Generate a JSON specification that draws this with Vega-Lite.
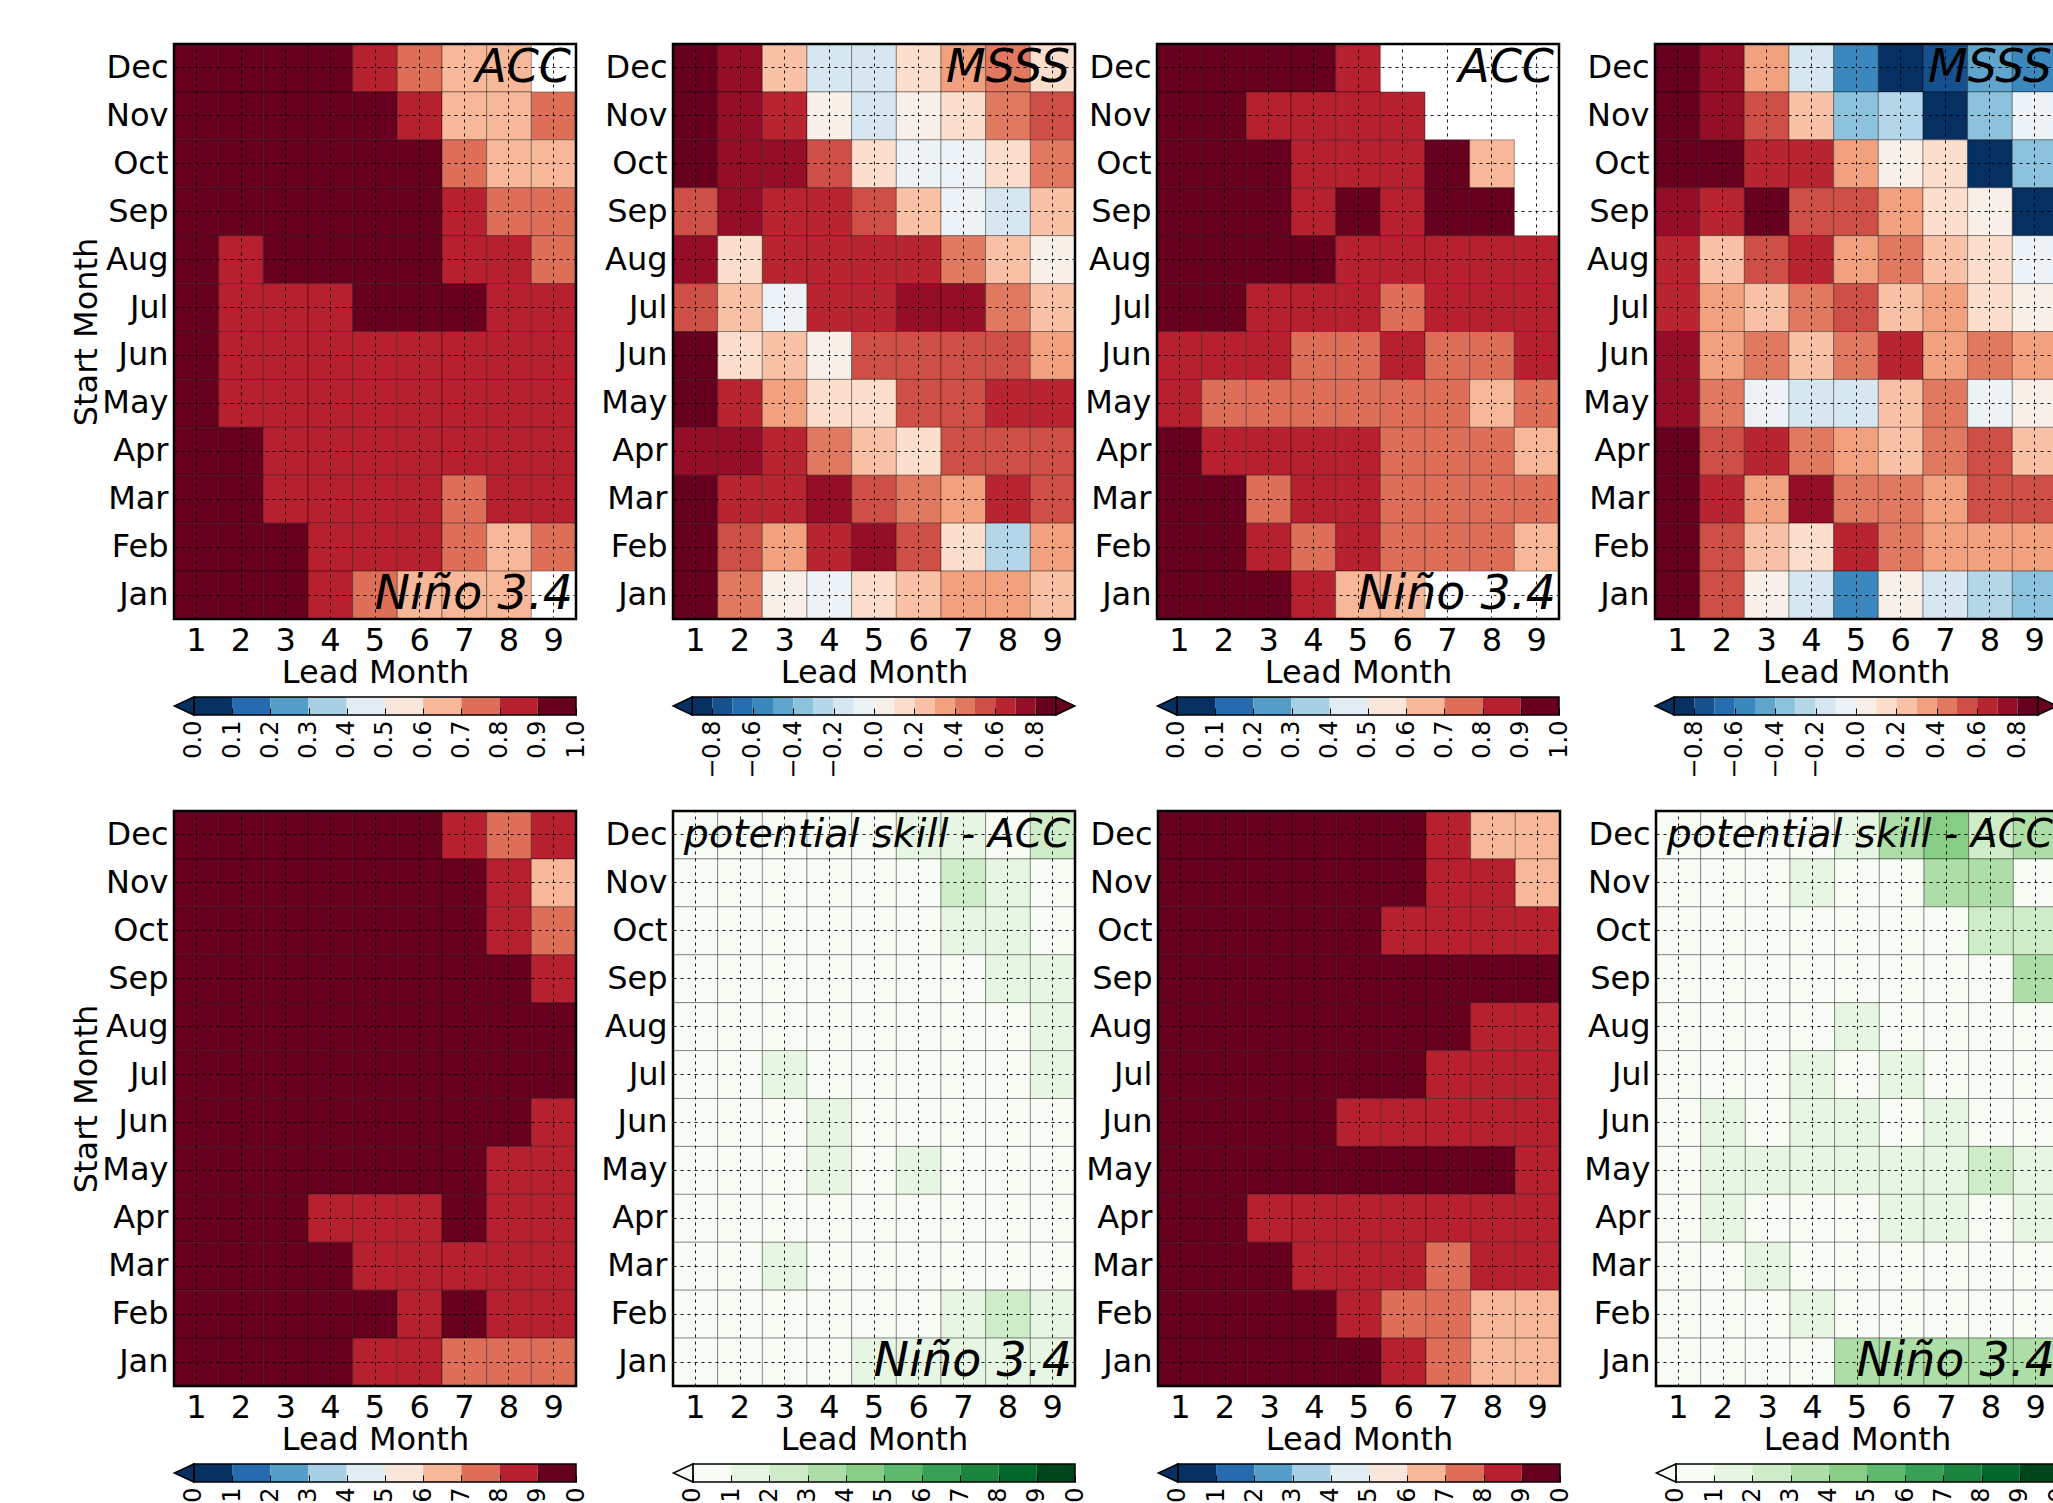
{
"$schema":"https://vega.github.io/schema/vega-lite/v6.json",
"background":"white",
"padding":{"left":70,"top":42,"right":0,"bottom":0},
"config":{
 "font":"DejaVu Sans",
 "view":{"stroke":null},
 "axis":{"labelColor":"black","titleColor":"black","titleFontWeight":"normal","labelFont":"DejaVu Sans","titleFont":"DejaVu Sans"},
 "axisBand":{"grid":true,"gridColor":"black","gridDash":[3,4],"gridWidth":1,"gridOpacity":0.9,"ticks":false,"domain":false,"labelFontSize":32,"titleFontSize":32,"labelPadding":6,"titlePadding":1,"zindex":1},
 "axisQuantitative":{"grid":false,"domain":false,"labelFontSize":24,"tickSize":-7,"tickColor":"black","tickWidth":1,"labelPadding":12,"zindex":1}
},
"datasets":{
 "cb10":[{"lo":0,"hi":0.1,"mid":0.05},{"lo":0.1,"hi":0.2,"mid":0.15},{"lo":0.2,"hi":0.3,"mid":0.25},{"lo":0.3,"hi":0.4,"mid":0.35},{"lo":0.4,"hi":0.5,"mid":0.45},{"lo":0.5,"hi":0.6,"mid":0.55},{"lo":0.6,"hi":0.7,"mid":0.65},{"lo":0.7,"hi":0.8,"mid":0.75},{"lo":0.8,"hi":0.9,"mid":0.85},{"lo":0.9,"hi":1.0,"mid":0.95}],
 "cb18":[{"lo":-0.9,"hi":-0.8,"mid":-0.85},{"lo":-0.8,"hi":-0.7,"mid":-0.75},{"lo":-0.7,"hi":-0.6,"mid":-0.65},{"lo":-0.6,"hi":-0.5,"mid":-0.55},{"lo":-0.5,"hi":-0.4,"mid":-0.45},{"lo":-0.4,"hi":-0.3,"mid":-0.35},{"lo":-0.3,"hi":-0.2,"mid":-0.25},{"lo":-0.2,"hi":-0.1,"mid":-0.15},{"lo":-0.1,"hi":0.0,"mid":-0.05},{"lo":0.0,"hi":0.1,"mid":0.05},{"lo":0.1,"hi":0.2,"mid":0.15},{"lo":0.2,"hi":0.3,"mid":0.25},{"lo":0.3,"hi":0.4,"mid":0.35},{"lo":0.4,"hi":0.5,"mid":0.45},{"lo":0.5,"hi":0.6,"mid":0.55},{"lo":0.6,"hi":0.7,"mid":0.65},{"lo":0.7,"hi":0.8,"mid":0.75},{"lo":0.8,"hi":0.9,"mid":0.85}],
 "p1":[
{"m":"Dec","l":1,"v":0.95},{"m":"Dec","l":2,"v":0.95},{"m":"Dec","l":3,"v":0.95},{"m":"Dec","l":4,"v":0.95},{"m":"Dec","l":5,"v":0.85},{"m":"Dec","l":6,"v":0.75},{"m":"Dec","l":7,"v":0.65},{"m":"Dec","l":8,"v":0.65},{"m":"Dec","l":9,"v":null},
{"m":"Nov","l":1,"v":0.95},{"m":"Nov","l":2,"v":0.95},{"m":"Nov","l":3,"v":0.95},{"m":"Nov","l":4,"v":0.95},{"m":"Nov","l":5,"v":0.95},{"m":"Nov","l":6,"v":0.85},{"m":"Nov","l":7,"v":0.65},{"m":"Nov","l":8,"v":0.65},{"m":"Nov","l":9,"v":0.75},
{"m":"Oct","l":1,"v":0.95},{"m":"Oct","l":2,"v":0.95},{"m":"Oct","l":3,"v":0.95},{"m":"Oct","l":4,"v":0.95},{"m":"Oct","l":5,"v":0.95},{"m":"Oct","l":6,"v":0.95},{"m":"Oct","l":7,"v":0.75},{"m":"Oct","l":8,"v":0.65},{"m":"Oct","l":9,"v":0.65},
{"m":"Sep","l":1,"v":0.95},{"m":"Sep","l":2,"v":0.95},{"m":"Sep","l":3,"v":0.95},{"m":"Sep","l":4,"v":0.95},{"m":"Sep","l":5,"v":0.95},{"m":"Sep","l":6,"v":0.95},{"m":"Sep","l":7,"v":0.85},{"m":"Sep","l":8,"v":0.75},{"m":"Sep","l":9,"v":0.75},
{"m":"Aug","l":1,"v":0.95},{"m":"Aug","l":2,"v":0.85},{"m":"Aug","l":3,"v":0.95},{"m":"Aug","l":4,"v":0.95},{"m":"Aug","l":5,"v":0.95},{"m":"Aug","l":6,"v":0.95},{"m":"Aug","l":7,"v":0.85},{"m":"Aug","l":8,"v":0.85},{"m":"Aug","l":9,"v":0.75},
{"m":"Jul","l":1,"v":0.95},{"m":"Jul","l":2,"v":0.85},{"m":"Jul","l":3,"v":0.85},{"m":"Jul","l":4,"v":0.85},{"m":"Jul","l":5,"v":0.95},{"m":"Jul","l":6,"v":0.95},{"m":"Jul","l":7,"v":0.95},{"m":"Jul","l":8,"v":0.85},{"m":"Jul","l":9,"v":0.85},
{"m":"Jun","l":1,"v":0.95},{"m":"Jun","l":2,"v":0.85},{"m":"Jun","l":3,"v":0.85},{"m":"Jun","l":4,"v":0.85},{"m":"Jun","l":5,"v":0.85},{"m":"Jun","l":6,"v":0.85},{"m":"Jun","l":7,"v":0.85},{"m":"Jun","l":8,"v":0.85},{"m":"Jun","l":9,"v":0.85},
{"m":"May","l":1,"v":0.95},{"m":"May","l":2,"v":0.85},{"m":"May","l":3,"v":0.85},{"m":"May","l":4,"v":0.85},{"m":"May","l":5,"v":0.85},{"m":"May","l":6,"v":0.85},{"m":"May","l":7,"v":0.85},{"m":"May","l":8,"v":0.85},{"m":"May","l":9,"v":0.85},
{"m":"Apr","l":1,"v":0.95},{"m":"Apr","l":2,"v":0.95},{"m":"Apr","l":3,"v":0.85},{"m":"Apr","l":4,"v":0.85},{"m":"Apr","l":5,"v":0.85},{"m":"Apr","l":6,"v":0.85},{"m":"Apr","l":7,"v":0.85},{"m":"Apr","l":8,"v":0.85},{"m":"Apr","l":9,"v":0.85},
{"m":"Mar","l":1,"v":0.95},{"m":"Mar","l":2,"v":0.95},{"m":"Mar","l":3,"v":0.85},{"m":"Mar","l":4,"v":0.85},{"m":"Mar","l":5,"v":0.85},{"m":"Mar","l":6,"v":0.85},{"m":"Mar","l":7,"v":0.75},{"m":"Mar","l":8,"v":0.85},{"m":"Mar","l":9,"v":0.85},
{"m":"Feb","l":1,"v":0.95},{"m":"Feb","l":2,"v":0.95},{"m":"Feb","l":3,"v":0.95},{"m":"Feb","l":4,"v":0.85},{"m":"Feb","l":5,"v":0.85},{"m":"Feb","l":6,"v":0.85},{"m":"Feb","l":7,"v":0.75},{"m":"Feb","l":8,"v":0.65},{"m":"Feb","l":9,"v":0.75},
{"m":"Jan","l":1,"v":0.95},{"m":"Jan","l":2,"v":0.95},{"m":"Jan","l":3,"v":0.95},{"m":"Jan","l":4,"v":0.85},{"m":"Jan","l":5,"v":0.75},{"m":"Jan","l":6,"v":0.65},{"m":"Jan","l":7,"v":0.65},{"m":"Jan","l":8,"v":0.65},{"m":"Jan","l":9,"v":null}],
 "p2":[
{"m":"Dec","l":1,"v":0.85},{"m":"Dec","l":2,"v":0.75},{"m":"Dec","l":3,"v":0.25},{"m":"Dec","l":4,"v":-0.15},{"m":"Dec","l":5,"v":-0.15},{"m":"Dec","l":6,"v":0.15},{"m":"Dec","l":7,"v":0.35},{"m":"Dec","l":8,"v":0.45},{"m":"Dec","l":9,"v":0.15},
{"m":"Nov","l":1,"v":0.85},{"m":"Nov","l":2,"v":0.75},{"m":"Nov","l":3,"v":0.65},{"m":"Nov","l":4,"v":0.05},{"m":"Nov","l":5,"v":-0.15},{"m":"Nov","l":6,"v":0.05},{"m":"Nov","l":7,"v":0.15},{"m":"Nov","l":8,"v":0.45},{"m":"Nov","l":9,"v":0.55},
{"m":"Oct","l":1,"v":0.85},{"m":"Oct","l":2,"v":0.75},{"m":"Oct","l":3,"v":0.75},{"m":"Oct","l":4,"v":0.55},{"m":"Oct","l":5,"v":0.15},{"m":"Oct","l":6,"v":-0.05},{"m":"Oct","l":7,"v":-0.05},{"m":"Oct","l":8,"v":0.15},{"m":"Oct","l":9,"v":0.45},
{"m":"Sep","l":1,"v":0.55},{"m":"Sep","l":2,"v":0.75},{"m":"Sep","l":3,"v":0.65},{"m":"Sep","l":4,"v":0.65},{"m":"Sep","l":5,"v":0.55},{"m":"Sep","l":6,"v":0.25},{"m":"Sep","l":7,"v":-0.05},{"m":"Sep","l":8,"v":-0.15},{"m":"Sep","l":9,"v":0.25},
{"m":"Aug","l":1,"v":0.75},{"m":"Aug","l":2,"v":0.15},{"m":"Aug","l":3,"v":0.65},{"m":"Aug","l":4,"v":0.65},{"m":"Aug","l":5,"v":0.65},{"m":"Aug","l":6,"v":0.65},{"m":"Aug","l":7,"v":0.45},{"m":"Aug","l":8,"v":0.25},{"m":"Aug","l":9,"v":0.05},
{"m":"Jul","l":1,"v":0.55},{"m":"Jul","l":2,"v":0.25},{"m":"Jul","l":3,"v":-0.05},{"m":"Jul","l":4,"v":0.65},{"m":"Jul","l":5,"v":0.65},{"m":"Jul","l":6,"v":0.75},{"m":"Jul","l":7,"v":0.75},{"m":"Jul","l":8,"v":0.45},{"m":"Jul","l":9,"v":0.25},
{"m":"Jun","l":1,"v":0.85},{"m":"Jun","l":2,"v":0.15},{"m":"Jun","l":3,"v":0.25},{"m":"Jun","l":4,"v":0.05},{"m":"Jun","l":5,"v":0.55},{"m":"Jun","l":6,"v":0.55},{"m":"Jun","l":7,"v":0.55},{"m":"Jun","l":8,"v":0.55},{"m":"Jun","l":9,"v":0.35},
{"m":"May","l":1,"v":0.85},{"m":"May","l":2,"v":0.65},{"m":"May","l":3,"v":0.35},{"m":"May","l":4,"v":0.15},{"m":"May","l":5,"v":0.15},{"m":"May","l":6,"v":0.55},{"m":"May","l":7,"v":0.55},{"m":"May","l":8,"v":0.65},{"m":"May","l":9,"v":0.65},
{"m":"Apr","l":1,"v":0.75},{"m":"Apr","l":2,"v":0.75},{"m":"Apr","l":3,"v":0.65},{"m":"Apr","l":4,"v":0.45},{"m":"Apr","l":5,"v":0.25},{"m":"Apr","l":6,"v":0.15},{"m":"Apr","l":7,"v":0.55},{"m":"Apr","l":8,"v":0.55},{"m":"Apr","l":9,"v":0.55},
{"m":"Mar","l":1,"v":0.85},{"m":"Mar","l":2,"v":0.65},{"m":"Mar","l":3,"v":0.65},{"m":"Mar","l":4,"v":0.75},{"m":"Mar","l":5,"v":0.55},{"m":"Mar","l":6,"v":0.45},{"m":"Mar","l":7,"v":0.35},{"m":"Mar","l":8,"v":0.65},{"m":"Mar","l":9,"v":0.55},
{"m":"Feb","l":1,"v":0.85},{"m":"Feb","l":2,"v":0.55},{"m":"Feb","l":3,"v":0.35},{"m":"Feb","l":4,"v":0.65},{"m":"Feb","l":5,"v":0.75},{"m":"Feb","l":6,"v":0.55},{"m":"Feb","l":7,"v":0.15},{"m":"Feb","l":8,"v":-0.25},{"m":"Feb","l":9,"v":0.35},
{"m":"Jan","l":1,"v":0.85},{"m":"Jan","l":2,"v":0.45},{"m":"Jan","l":3,"v":0.05},{"m":"Jan","l":4,"v":-0.05},{"m":"Jan","l":5,"v":0.15},{"m":"Jan","l":6,"v":0.25},{"m":"Jan","l":7,"v":0.35},{"m":"Jan","l":8,"v":0.35},{"m":"Jan","l":9,"v":0.25}],
 "p3":[
{"m":"Dec","l":1,"v":0.95},{"m":"Dec","l":2,"v":0.95},{"m":"Dec","l":3,"v":0.95},{"m":"Dec","l":4,"v":0.95},{"m":"Dec","l":5,"v":0.85},{"m":"Dec","l":6,"v":null},{"m":"Dec","l":7,"v":null},{"m":"Dec","l":8,"v":null},{"m":"Dec","l":9,"v":null},
{"m":"Nov","l":1,"v":0.95},{"m":"Nov","l":2,"v":0.95},{"m":"Nov","l":3,"v":0.85},{"m":"Nov","l":4,"v":0.85},{"m":"Nov","l":5,"v":0.85},{"m":"Nov","l":6,"v":0.85},{"m":"Nov","l":7,"v":null},{"m":"Nov","l":8,"v":null},{"m":"Nov","l":9,"v":null},
{"m":"Oct","l":1,"v":0.95},{"m":"Oct","l":2,"v":0.95},{"m":"Oct","l":3,"v":0.95},{"m":"Oct","l":4,"v":0.85},{"m":"Oct","l":5,"v":0.85},{"m":"Oct","l":6,"v":0.85},{"m":"Oct","l":7,"v":0.95},{"m":"Oct","l":8,"v":0.65},{"m":"Oct","l":9,"v":null},
{"m":"Sep","l":1,"v":0.95},{"m":"Sep","l":2,"v":0.95},{"m":"Sep","l":3,"v":0.95},{"m":"Sep","l":4,"v":0.85},{"m":"Sep","l":5,"v":0.95},{"m":"Sep","l":6,"v":0.85},{"m":"Sep","l":7,"v":0.95},{"m":"Sep","l":8,"v":0.95},{"m":"Sep","l":9,"v":null},
{"m":"Aug","l":1,"v":0.95},{"m":"Aug","l":2,"v":0.95},{"m":"Aug","l":3,"v":0.95},{"m":"Aug","l":4,"v":0.95},{"m":"Aug","l":5,"v":0.85},{"m":"Aug","l":6,"v":0.85},{"m":"Aug","l":7,"v":0.85},{"m":"Aug","l":8,"v":0.85},{"m":"Aug","l":9,"v":0.85},
{"m":"Jul","l":1,"v":0.95},{"m":"Jul","l":2,"v":0.95},{"m":"Jul","l":3,"v":0.85},{"m":"Jul","l":4,"v":0.85},{"m":"Jul","l":5,"v":0.85},{"m":"Jul","l":6,"v":0.75},{"m":"Jul","l":7,"v":0.85},{"m":"Jul","l":8,"v":0.85},{"m":"Jul","l":9,"v":0.85},
{"m":"Jun","l":1,"v":0.85},{"m":"Jun","l":2,"v":0.85},{"m":"Jun","l":3,"v":0.85},{"m":"Jun","l":4,"v":0.75},{"m":"Jun","l":5,"v":0.75},{"m":"Jun","l":6,"v":0.85},{"m":"Jun","l":7,"v":0.75},{"m":"Jun","l":8,"v":0.75},{"m":"Jun","l":9,"v":0.85},
{"m":"May","l":1,"v":0.85},{"m":"May","l":2,"v":0.75},{"m":"May","l":3,"v":0.75},{"m":"May","l":4,"v":0.75},{"m":"May","l":5,"v":0.75},{"m":"May","l":6,"v":0.75},{"m":"May","l":7,"v":0.75},{"m":"May","l":8,"v":0.65},{"m":"May","l":9,"v":0.75},
{"m":"Apr","l":1,"v":0.95},{"m":"Apr","l":2,"v":0.85},{"m":"Apr","l":3,"v":0.85},{"m":"Apr","l":4,"v":0.85},{"m":"Apr","l":5,"v":0.85},{"m":"Apr","l":6,"v":0.75},{"m":"Apr","l":7,"v":0.75},{"m":"Apr","l":8,"v":0.75},{"m":"Apr","l":9,"v":0.65},
{"m":"Mar","l":1,"v":0.95},{"m":"Mar","l":2,"v":0.95},{"m":"Mar","l":3,"v":0.75},{"m":"Mar","l":4,"v":0.85},{"m":"Mar","l":5,"v":0.85},{"m":"Mar","l":6,"v":0.75},{"m":"Mar","l":7,"v":0.75},{"m":"Mar","l":8,"v":0.75},{"m":"Mar","l":9,"v":0.75},
{"m":"Feb","l":1,"v":0.95},{"m":"Feb","l":2,"v":0.95},{"m":"Feb","l":3,"v":0.85},{"m":"Feb","l":4,"v":0.75},{"m":"Feb","l":5,"v":0.85},{"m":"Feb","l":6,"v":0.75},{"m":"Feb","l":7,"v":0.75},{"m":"Feb","l":8,"v":0.75},{"m":"Feb","l":9,"v":0.65},
{"m":"Jan","l":1,"v":0.95},{"m":"Jan","l":2,"v":0.95},{"m":"Jan","l":3,"v":0.95},{"m":"Jan","l":4,"v":0.85},{"m":"Jan","l":5,"v":0.65},{"m":"Jan","l":6,"v":0.65},{"m":"Jan","l":7,"v":null},{"m":"Jan","l":8,"v":null},{"m":"Jan","l":9,"v":null}],
 "p4":[
{"m":"Dec","l":1,"v":0.85},{"m":"Dec","l":2,"v":0.75},{"m":"Dec","l":3,"v":0.35},{"m":"Dec","l":4,"v":-0.15},{"m":"Dec","l":5,"v":-0.55},{"m":"Dec","l":6,"v":-0.85},{"m":"Dec","l":7,"v":-0.75},{"m":"Dec","l":8,"v":-0.45},{"m":"Dec","l":9,"v":-0.55},
{"m":"Nov","l":1,"v":0.85},{"m":"Nov","l":2,"v":0.75},{"m":"Nov","l":3,"v":0.55},{"m":"Nov","l":4,"v":0.25},{"m":"Nov","l":5,"v":-0.35},{"m":"Nov","l":6,"v":-0.25},{"m":"Nov","l":7,"v":-0.85},{"m":"Nov","l":8,"v":-0.35},{"m":"Nov","l":9,"v":-0.05},
{"m":"Oct","l":1,"v":0.85},{"m":"Oct","l":2,"v":0.85},{"m":"Oct","l":3,"v":0.65},{"m":"Oct","l":4,"v":0.65},{"m":"Oct","l":5,"v":0.35},{"m":"Oct","l":6,"v":0.05},{"m":"Oct","l":7,"v":0.15},{"m":"Oct","l":8,"v":-0.85},{"m":"Oct","l":9,"v":-0.35},
{"m":"Sep","l":1,"v":0.75},{"m":"Sep","l":2,"v":0.65},{"m":"Sep","l":3,"v":0.85},{"m":"Sep","l":4,"v":0.55},{"m":"Sep","l":5,"v":0.55},{"m":"Sep","l":6,"v":0.35},{"m":"Sep","l":7,"v":0.15},{"m":"Sep","l":8,"v":0.05},{"m":"Sep","l":9,"v":-0.85},
{"m":"Aug","l":1,"v":0.65},{"m":"Aug","l":2,"v":0.25},{"m":"Aug","l":3,"v":0.55},{"m":"Aug","l":4,"v":0.65},{"m":"Aug","l":5,"v":0.35},{"m":"Aug","l":6,"v":0.45},{"m":"Aug","l":7,"v":0.25},{"m":"Aug","l":8,"v":0.15},{"m":"Aug","l":9,"v":-0.05},
{"m":"Jul","l":1,"v":0.65},{"m":"Jul","l":2,"v":0.35},{"m":"Jul","l":3,"v":0.25},{"m":"Jul","l":4,"v":0.45},{"m":"Jul","l":5,"v":0.55},{"m":"Jul","l":6,"v":0.25},{"m":"Jul","l":7,"v":0.35},{"m":"Jul","l":8,"v":0.15},{"m":"Jul","l":9,"v":0.05},
{"m":"Jun","l":1,"v":0.75},{"m":"Jun","l":2,"v":0.35},{"m":"Jun","l":3,"v":0.45},{"m":"Jun","l":4,"v":0.25},{"m":"Jun","l":5,"v":0.45},{"m":"Jun","l":6,"v":0.65},{"m":"Jun","l":7,"v":0.35},{"m":"Jun","l":8,"v":0.45},{"m":"Jun","l":9,"v":0.35},
{"m":"May","l":1,"v":0.75},{"m":"May","l":2,"v":0.45},{"m":"May","l":3,"v":-0.05},{"m":"May","l":4,"v":-0.15},{"m":"May","l":5,"v":-0.15},{"m":"May","l":6,"v":0.25},{"m":"May","l":7,"v":0.45},{"m":"May","l":8,"v":-0.05},{"m":"May","l":9,"v":0.05},
{"m":"Apr","l":1,"v":0.85},{"m":"Apr","l":2,"v":0.55},{"m":"Apr","l":3,"v":0.65},{"m":"Apr","l":4,"v":0.45},{"m":"Apr","l":5,"v":0.35},{"m":"Apr","l":6,"v":0.25},{"m":"Apr","l":7,"v":0.45},{"m":"Apr","l":8,"v":0.55},{"m":"Apr","l":9,"v":0.25},
{"m":"Mar","l":1,"v":0.85},{"m":"Mar","l":2,"v":0.65},{"m":"Mar","l":3,"v":0.35},{"m":"Mar","l":4,"v":0.75},{"m":"Mar","l":5,"v":0.45},{"m":"Mar","l":6,"v":0.45},{"m":"Mar","l":7,"v":0.35},{"m":"Mar","l":8,"v":0.55},{"m":"Mar","l":9,"v":0.55},
{"m":"Feb","l":1,"v":0.85},{"m":"Feb","l":2,"v":0.55},{"m":"Feb","l":3,"v":0.25},{"m":"Feb","l":4,"v":0.15},{"m":"Feb","l":5,"v":0.65},{"m":"Feb","l":6,"v":0.45},{"m":"Feb","l":7,"v":0.35},{"m":"Feb","l":8,"v":0.35},{"m":"Feb","l":9,"v":0.35},
{"m":"Jan","l":1,"v":0.85},{"m":"Jan","l":2,"v":0.55},{"m":"Jan","l":3,"v":0.05},{"m":"Jan","l":4,"v":-0.15},{"m":"Jan","l":5,"v":-0.55},{"m":"Jan","l":6,"v":0.05},{"m":"Jan","l":7,"v":-0.15},{"m":"Jan","l":8,"v":-0.25},{"m":"Jan","l":9,"v":-0.35}],
 "p5":[
{"m":"Dec","l":1,"v":0.95},{"m":"Dec","l":2,"v":0.95},{"m":"Dec","l":3,"v":0.95},{"m":"Dec","l":4,"v":0.95},{"m":"Dec","l":5,"v":0.95},{"m":"Dec","l":6,"v":0.95},{"m":"Dec","l":7,"v":0.85},{"m":"Dec","l":8,"v":0.75},{"m":"Dec","l":9,"v":0.85},
{"m":"Nov","l":1,"v":0.95},{"m":"Nov","l":2,"v":0.95},{"m":"Nov","l":3,"v":0.95},{"m":"Nov","l":4,"v":0.95},{"m":"Nov","l":5,"v":0.95},{"m":"Nov","l":6,"v":0.95},{"m":"Nov","l":7,"v":0.95},{"m":"Nov","l":8,"v":0.85},{"m":"Nov","l":9,"v":0.65},
{"m":"Oct","l":1,"v":0.95},{"m":"Oct","l":2,"v":0.95},{"m":"Oct","l":3,"v":0.95},{"m":"Oct","l":4,"v":0.95},{"m":"Oct","l":5,"v":0.95},{"m":"Oct","l":6,"v":0.95},{"m":"Oct","l":7,"v":0.95},{"m":"Oct","l":8,"v":0.85},{"m":"Oct","l":9,"v":0.75},
{"m":"Sep","l":1,"v":0.95},{"m":"Sep","l":2,"v":0.95},{"m":"Sep","l":3,"v":0.95},{"m":"Sep","l":4,"v":0.95},{"m":"Sep","l":5,"v":0.95},{"m":"Sep","l":6,"v":0.95},{"m":"Sep","l":7,"v":0.95},{"m":"Sep","l":8,"v":0.95},{"m":"Sep","l":9,"v":0.85},
{"m":"Aug","l":1,"v":0.95},{"m":"Aug","l":2,"v":0.95},{"m":"Aug","l":3,"v":0.95},{"m":"Aug","l":4,"v":0.95},{"m":"Aug","l":5,"v":0.95},{"m":"Aug","l":6,"v":0.95},{"m":"Aug","l":7,"v":0.95},{"m":"Aug","l":8,"v":0.95},{"m":"Aug","l":9,"v":0.95},
{"m":"Jul","l":1,"v":0.95},{"m":"Jul","l":2,"v":0.95},{"m":"Jul","l":3,"v":0.95},{"m":"Jul","l":4,"v":0.95},{"m":"Jul","l":5,"v":0.95},{"m":"Jul","l":6,"v":0.95},{"m":"Jul","l":7,"v":0.95},{"m":"Jul","l":8,"v":0.95},{"m":"Jul","l":9,"v":0.95},
{"m":"Jun","l":1,"v":0.95},{"m":"Jun","l":2,"v":0.95},{"m":"Jun","l":3,"v":0.95},{"m":"Jun","l":4,"v":0.95},{"m":"Jun","l":5,"v":0.95},{"m":"Jun","l":6,"v":0.95},{"m":"Jun","l":7,"v":0.95},{"m":"Jun","l":8,"v":0.95},{"m":"Jun","l":9,"v":0.85},
{"m":"May","l":1,"v":0.95},{"m":"May","l":2,"v":0.95},{"m":"May","l":3,"v":0.95},{"m":"May","l":4,"v":0.95},{"m":"May","l":5,"v":0.95},{"m":"May","l":6,"v":0.95},{"m":"May","l":7,"v":0.95},{"m":"May","l":8,"v":0.85},{"m":"May","l":9,"v":0.85},
{"m":"Apr","l":1,"v":0.95},{"m":"Apr","l":2,"v":0.95},{"m":"Apr","l":3,"v":0.95},{"m":"Apr","l":4,"v":0.85},{"m":"Apr","l":5,"v":0.85},{"m":"Apr","l":6,"v":0.85},{"m":"Apr","l":7,"v":0.95},{"m":"Apr","l":8,"v":0.85},{"m":"Apr","l":9,"v":0.85},
{"m":"Mar","l":1,"v":0.95},{"m":"Mar","l":2,"v":0.95},{"m":"Mar","l":3,"v":0.95},{"m":"Mar","l":4,"v":0.95},{"m":"Mar","l":5,"v":0.85},{"m":"Mar","l":6,"v":0.85},{"m":"Mar","l":7,"v":0.85},{"m":"Mar","l":8,"v":0.85},{"m":"Mar","l":9,"v":0.85},
{"m":"Feb","l":1,"v":0.95},{"m":"Feb","l":2,"v":0.95},{"m":"Feb","l":3,"v":0.95},{"m":"Feb","l":4,"v":0.95},{"m":"Feb","l":5,"v":0.95},{"m":"Feb","l":6,"v":0.85},{"m":"Feb","l":7,"v":0.95},{"m":"Feb","l":8,"v":0.85},{"m":"Feb","l":9,"v":0.85},
{"m":"Jan","l":1,"v":0.95},{"m":"Jan","l":2,"v":0.95},{"m":"Jan","l":3,"v":0.95},{"m":"Jan","l":4,"v":0.95},{"m":"Jan","l":5,"v":0.85},{"m":"Jan","l":6,"v":0.85},{"m":"Jan","l":7,"v":0.75},{"m":"Jan","l":8,"v":0.75},{"m":"Jan","l":9,"v":0.75}],
 "p6":[
{"m":"Dec","l":1,"v":0.05},{"m":"Dec","l":2,"v":0.05},{"m":"Dec","l":3,"v":0.05},{"m":"Dec","l":4,"v":0.05},{"m":"Dec","l":5,"v":0.05},{"m":"Dec","l":6,"v":0.15},{"m":"Dec","l":7,"v":0.15},{"m":"Dec","l":8,"v":0.05},{"m":"Dec","l":9,"v":0.25},
{"m":"Nov","l":1,"v":0.05},{"m":"Nov","l":2,"v":0.05},{"m":"Nov","l":3,"v":0.05},{"m":"Nov","l":4,"v":0.05},{"m":"Nov","l":5,"v":0.05},{"m":"Nov","l":6,"v":0.05},{"m":"Nov","l":7,"v":0.25},{"m":"Nov","l":8,"v":0.15},{"m":"Nov","l":9,"v":0.05},
{"m":"Oct","l":1,"v":0.05},{"m":"Oct","l":2,"v":0.05},{"m":"Oct","l":3,"v":0.05},{"m":"Oct","l":4,"v":0.05},{"m":"Oct","l":5,"v":0.05},{"m":"Oct","l":6,"v":0.05},{"m":"Oct","l":7,"v":0.15},{"m":"Oct","l":8,"v":0.15},{"m":"Oct","l":9,"v":0.05},
{"m":"Sep","l":1,"v":0.05},{"m":"Sep","l":2,"v":0.05},{"m":"Sep","l":3,"v":0.05},{"m":"Sep","l":4,"v":0.05},{"m":"Sep","l":5,"v":0.05},{"m":"Sep","l":6,"v":0.05},{"m":"Sep","l":7,"v":0.05},{"m":"Sep","l":8,"v":0.15},{"m":"Sep","l":9,"v":0.15},
{"m":"Aug","l":1,"v":0.05},{"m":"Aug","l":2,"v":0.05},{"m":"Aug","l":3,"v":0.05},{"m":"Aug","l":4,"v":0.05},{"m":"Aug","l":5,"v":0.05},{"m":"Aug","l":6,"v":0.05},{"m":"Aug","l":7,"v":0.05},{"m":"Aug","l":8,"v":0.05},{"m":"Aug","l":9,"v":0.15},
{"m":"Jul","l":1,"v":0.05},{"m":"Jul","l":2,"v":0.05},{"m":"Jul","l":3,"v":0.15},{"m":"Jul","l":4,"v":0.05},{"m":"Jul","l":5,"v":0.05},{"m":"Jul","l":6,"v":0.05},{"m":"Jul","l":7,"v":0.05},{"m":"Jul","l":8,"v":0.05},{"m":"Jul","l":9,"v":0.15},
{"m":"Jun","l":1,"v":0.05},{"m":"Jun","l":2,"v":0.05},{"m":"Jun","l":3,"v":0.05},{"m":"Jun","l":4,"v":0.15},{"m":"Jun","l":5,"v":0.05},{"m":"Jun","l":6,"v":0.05},{"m":"Jun","l":7,"v":0.05},{"m":"Jun","l":8,"v":0.05},{"m":"Jun","l":9,"v":0.05},
{"m":"May","l":1,"v":0.05},{"m":"May","l":2,"v":0.05},{"m":"May","l":3,"v":0.05},{"m":"May","l":4,"v":0.15},{"m":"May","l":5,"v":0.05},{"m":"May","l":6,"v":0.15},{"m":"May","l":7,"v":0.05},{"m":"May","l":8,"v":0.05},{"m":"May","l":9,"v":0.05},
{"m":"Apr","l":1,"v":0.05},{"m":"Apr","l":2,"v":0.05},{"m":"Apr","l":3,"v":0.05},{"m":"Apr","l":4,"v":0.05},{"m":"Apr","l":5,"v":0.05},{"m":"Apr","l":6,"v":0.05},{"m":"Apr","l":7,"v":0.05},{"m":"Apr","l":8,"v":0.05},{"m":"Apr","l":9,"v":0.05},
{"m":"Mar","l":1,"v":0.05},{"m":"Mar","l":2,"v":0.05},{"m":"Mar","l":3,"v":0.15},{"m":"Mar","l":4,"v":0.05},{"m":"Mar","l":5,"v":0.05},{"m":"Mar","l":6,"v":0.05},{"m":"Mar","l":7,"v":0.05},{"m":"Mar","l":8,"v":0.05},{"m":"Mar","l":9,"v":0.05},
{"m":"Feb","l":1,"v":0.05},{"m":"Feb","l":2,"v":0.05},{"m":"Feb","l":3,"v":0.05},{"m":"Feb","l":4,"v":0.05},{"m":"Feb","l":5,"v":0.05},{"m":"Feb","l":6,"v":0.05},{"m":"Feb","l":7,"v":0.15},{"m":"Feb","l":8,"v":0.25},{"m":"Feb","l":9,"v":0.15},
{"m":"Jan","l":1,"v":0.05},{"m":"Jan","l":2,"v":0.05},{"m":"Jan","l":3,"v":0.05},{"m":"Jan","l":4,"v":0.05},{"m":"Jan","l":5,"v":0.15},{"m":"Jan","l":6,"v":0.15},{"m":"Jan","l":7,"v":0.15},{"m":"Jan","l":8,"v":0.15},{"m":"Jan","l":9,"v":0.15}],
 "p7":[
{"m":"Dec","l":1,"v":0.95},{"m":"Dec","l":2,"v":0.95},{"m":"Dec","l":3,"v":0.95},{"m":"Dec","l":4,"v":0.95},{"m":"Dec","l":5,"v":0.95},{"m":"Dec","l":6,"v":0.95},{"m":"Dec","l":7,"v":0.85},{"m":"Dec","l":8,"v":0.65},{"m":"Dec","l":9,"v":0.65},
{"m":"Nov","l":1,"v":0.95},{"m":"Nov","l":2,"v":0.95},{"m":"Nov","l":3,"v":0.95},{"m":"Nov","l":4,"v":0.95},{"m":"Nov","l":5,"v":0.95},{"m":"Nov","l":6,"v":0.95},{"m":"Nov","l":7,"v":0.85},{"m":"Nov","l":8,"v":0.85},{"m":"Nov","l":9,"v":0.65},
{"m":"Oct","l":1,"v":0.95},{"m":"Oct","l":2,"v":0.95},{"m":"Oct","l":3,"v":0.95},{"m":"Oct","l":4,"v":0.95},{"m":"Oct","l":5,"v":0.95},{"m":"Oct","l":6,"v":0.85},{"m":"Oct","l":7,"v":0.85},{"m":"Oct","l":8,"v":0.85},{"m":"Oct","l":9,"v":0.85},
{"m":"Sep","l":1,"v":0.95},{"m":"Sep","l":2,"v":0.95},{"m":"Sep","l":3,"v":0.95},{"m":"Sep","l":4,"v":0.95},{"m":"Sep","l":5,"v":0.95},{"m":"Sep","l":6,"v":0.95},{"m":"Sep","l":7,"v":0.95},{"m":"Sep","l":8,"v":0.95},{"m":"Sep","l":9,"v":0.95},
{"m":"Aug","l":1,"v":0.95},{"m":"Aug","l":2,"v":0.95},{"m":"Aug","l":3,"v":0.95},{"m":"Aug","l":4,"v":0.95},{"m":"Aug","l":5,"v":0.95},{"m":"Aug","l":6,"v":0.95},{"m":"Aug","l":7,"v":0.95},{"m":"Aug","l":8,"v":0.85},{"m":"Aug","l":9,"v":0.85},
{"m":"Jul","l":1,"v":0.95},{"m":"Jul","l":2,"v":0.95},{"m":"Jul","l":3,"v":0.95},{"m":"Jul","l":4,"v":0.95},{"m":"Jul","l":5,"v":0.95},{"m":"Jul","l":6,"v":0.95},{"m":"Jul","l":7,"v":0.85},{"m":"Jul","l":8,"v":0.85},{"m":"Jul","l":9,"v":0.85},
{"m":"Jun","l":1,"v":0.95},{"m":"Jun","l":2,"v":0.95},{"m":"Jun","l":3,"v":0.95},{"m":"Jun","l":4,"v":0.95},{"m":"Jun","l":5,"v":0.85},{"m":"Jun","l":6,"v":0.85},{"m":"Jun","l":7,"v":0.85},{"m":"Jun","l":8,"v":0.85},{"m":"Jun","l":9,"v":0.85},
{"m":"May","l":1,"v":0.95},{"m":"May","l":2,"v":0.95},{"m":"May","l":3,"v":0.95},{"m":"May","l":4,"v":0.95},{"m":"May","l":5,"v":0.95},{"m":"May","l":6,"v":0.95},{"m":"May","l":7,"v":0.95},{"m":"May","l":8,"v":0.95},{"m":"May","l":9,"v":0.85},
{"m":"Apr","l":1,"v":0.95},{"m":"Apr","l":2,"v":0.95},{"m":"Apr","l":3,"v":0.85},{"m":"Apr","l":4,"v":0.85},{"m":"Apr","l":5,"v":0.85},{"m":"Apr","l":6,"v":0.85},{"m":"Apr","l":7,"v":0.85},{"m":"Apr","l":8,"v":0.85},{"m":"Apr","l":9,"v":0.85},
{"m":"Mar","l":1,"v":0.95},{"m":"Mar","l":2,"v":0.95},{"m":"Mar","l":3,"v":0.95},{"m":"Mar","l":4,"v":0.85},{"m":"Mar","l":5,"v":0.85},{"m":"Mar","l":6,"v":0.85},{"m":"Mar","l":7,"v":0.75},{"m":"Mar","l":8,"v":0.85},{"m":"Mar","l":9,"v":0.85},
{"m":"Feb","l":1,"v":0.95},{"m":"Feb","l":2,"v":0.95},{"m":"Feb","l":3,"v":0.95},{"m":"Feb","l":4,"v":0.95},{"m":"Feb","l":5,"v":0.85},{"m":"Feb","l":6,"v":0.75},{"m":"Feb","l":7,"v":0.75},{"m":"Feb","l":8,"v":0.65},{"m":"Feb","l":9,"v":0.65},
{"m":"Jan","l":1,"v":0.95},{"m":"Jan","l":2,"v":0.95},{"m":"Jan","l":3,"v":0.95},{"m":"Jan","l":4,"v":0.95},{"m":"Jan","l":5,"v":0.95},{"m":"Jan","l":6,"v":0.85},{"m":"Jan","l":7,"v":0.75},{"m":"Jan","l":8,"v":0.65},{"m":"Jan","l":9,"v":0.65}],
 "p8":[
{"m":"Dec","l":1,"v":0.05},{"m":"Dec","l":2,"v":0.05},{"m":"Dec","l":3,"v":0.05},{"m":"Dec","l":4,"v":0.05},{"m":"Dec","l":5,"v":0.15},{"m":"Dec","l":6,"v":0.35},{"m":"Dec","l":7,"v":0.45},{"m":"Dec","l":8,"v":0.25},{"m":"Dec","l":9,"v":0.35},
{"m":"Nov","l":1,"v":0.05},{"m":"Nov","l":2,"v":0.05},{"m":"Nov","l":3,"v":0.05},{"m":"Nov","l":4,"v":0.15},{"m":"Nov","l":5,"v":0.05},{"m":"Nov","l":6,"v":0.05},{"m":"Nov","l":7,"v":0.35},{"m":"Nov","l":8,"v":0.35},{"m":"Nov","l":9,"v":0.05},
{"m":"Oct","l":1,"v":0.05},{"m":"Oct","l":2,"v":0.05},{"m":"Oct","l":3,"v":0.05},{"m":"Oct","l":4,"v":0.05},{"m":"Oct","l":5,"v":0.05},{"m":"Oct","l":6,"v":0.05},{"m":"Oct","l":7,"v":0.05},{"m":"Oct","l":8,"v":0.25},{"m":"Oct","l":9,"v":0.25},
{"m":"Sep","l":1,"v":0.05},{"m":"Sep","l":2,"v":0.05},{"m":"Sep","l":3,"v":0.05},{"m":"Sep","l":4,"v":0.05},{"m":"Sep","l":5,"v":0.05},{"m":"Sep","l":6,"v":0.05},{"m":"Sep","l":7,"v":0.05},{"m":"Sep","l":8,"v":0.05},{"m":"Sep","l":9,"v":0.35},
{"m":"Aug","l":1,"v":0.05},{"m":"Aug","l":2,"v":0.05},{"m":"Aug","l":3,"v":0.05},{"m":"Aug","l":4,"v":0.05},{"m":"Aug","l":5,"v":0.15},{"m":"Aug","l":6,"v":0.05},{"m":"Aug","l":7,"v":0.05},{"m":"Aug","l":8,"v":0.05},{"m":"Aug","l":9,"v":0.05},
{"m":"Jul","l":1,"v":0.05},{"m":"Jul","l":2,"v":0.05},{"m":"Jul","l":3,"v":0.05},{"m":"Jul","l":4,"v":0.15},{"m":"Jul","l":5,"v":0.05},{"m":"Jul","l":6,"v":0.15},{"m":"Jul","l":7,"v":0.05},{"m":"Jul","l":8,"v":0.05},{"m":"Jul","l":9,"v":0.05},
{"m":"Jun","l":1,"v":0.05},{"m":"Jun","l":2,"v":0.15},{"m":"Jun","l":3,"v":0.05},{"m":"Jun","l":4,"v":0.15},{"m":"Jun","l":5,"v":0.15},{"m":"Jun","l":6,"v":0.05},{"m":"Jun","l":7,"v":0.15},{"m":"Jun","l":8,"v":0.05},{"m":"Jun","l":9,"v":0.05},
{"m":"May","l":1,"v":0.05},{"m":"May","l":2,"v":0.15},{"m":"May","l":3,"v":0.15},{"m":"May","l":4,"v":0.15},{"m":"May","l":5,"v":0.15},{"m":"May","l":6,"v":0.15},{"m":"May","l":7,"v":0.15},{"m":"May","l":8,"v":0.25},{"m":"May","l":9,"v":0.15},
{"m":"Apr","l":1,"v":0.05},{"m":"Apr","l":2,"v":0.15},{"m":"Apr","l":3,"v":0.05},{"m":"Apr","l":4,"v":0.05},{"m":"Apr","l":5,"v":0.05},{"m":"Apr","l":6,"v":0.15},{"m":"Apr","l":7,"v":0.15},{"m":"Apr","l":8,"v":0.05},{"m":"Apr","l":9,"v":0.15},
{"m":"Mar","l":1,"v":0.05},{"m":"Mar","l":2,"v":0.05},{"m":"Mar","l":3,"v":0.15},{"m":"Mar","l":4,"v":0.05},{"m":"Mar","l":5,"v":0.05},{"m":"Mar","l":6,"v":0.05},{"m":"Mar","l":7,"v":0.05},{"m":"Mar","l":8,"v":0.05},{"m":"Mar","l":9,"v":0.05},
{"m":"Feb","l":1,"v":0.05},{"m":"Feb","l":2,"v":0.05},{"m":"Feb","l":3,"v":0.05},{"m":"Feb","l":4,"v":0.15},{"m":"Feb","l":5,"v":0.05},{"m":"Feb","l":6,"v":0.05},{"m":"Feb","l":7,"v":0.05},{"m":"Feb","l":8,"v":0.05},{"m":"Feb","l":9,"v":0.05},
{"m":"Jan","l":1,"v":0.05},{"m":"Jan","l":2,"v":0.05},{"m":"Jan","l":3,"v":0.05},{"m":"Jan","l":4,"v":0.05},{"m":"Jan","l":5,"v":0.35},{"m":"Jan","l":6,"v":0.35},{"m":"Jan","l":7,"v":0.35},{"m":"Jan","l":8,"v":0.35},{"m":"Jan","l":9,"v":0.35}]
},
"vconcat":[
{"hconcat":[
  {"vconcat":[
   {"width":402,"height":575,"layer":[
    {"data":{"name":"p1"},"transform":[{"filter":"isValid(datum.v)"}],"mark":{"type":"rect","stroke":"black","strokeOpacity":0.35,"strokeWidth":1},
     "encoding":{"x":{"field":"l","type":"ordinal","scale":{"domain":[1,2,3,4,5,6,7,8,9],"paddingInner":0,"paddingOuter":0},"axis":{"title":"Lead Month","labelAngle":0}},
      "y":{"field":"m","type":"ordinal","scale":{"domain":["Dec","Nov","Oct","Sep","Aug","Jul","Jun","May","Apr","Mar","Feb","Jan"],"paddingInner":0,"paddingOuter":0},"axis":{"title":"Start Month","titlePadding":-2,"minExtent":70}},
      "color":{"field":"v","type":"quantitative","scale":{"type":"threshold","domain":[0.1,0.2,0.3,0.4,0.5,0.6,0.7,0.8,0.9],"range":["#053061","#256bae","#549ec9","#a7d0e4","#e2edf3","#fae7dc","#f7b799","#dd6f59","#b6202f","#67001f"]},"legend":null}}},
    {"data":{"values":[{"t":"ACC","m":"Dec","l":9}]},"mark":{"type":"text","align":"right","baseline":"middle","fontStyle":"italic","fontSize":46,"dx":-5,"color":"black"},"encoding":{"x":{"field":"l","type":"ordinal","bandPosition":1},"y":{"field":"m","type":"ordinal"},"text":{"field":"t"}}},
    {"data":{"values":[{"t":"Niño 3.4","m":"Jan","l":9}]},"mark":{"type":"text","align":"right","baseline":"middle","fontStyle":"italic","fontSize":47.5,"dx":-3,"color":"black"},"encoding":{"x":{"field":"l","type":"ordinal","bandPosition":1},"y":{"field":"m","type":"ordinal"},"text":{"field":"t"}}},
    {"data":{"values":[{}]},"mark":{"type":"rect","fill":"white","fillOpacity":0,"stroke":"black","strokeWidth":2.5},"encoding":{}}
   ]},
   {"width":402,"height":18,"layer":[
    {"data":{"name":"cb10"},"mark":{"type":"rect"},"encoding":{"x":{"field":"lo","type":"quantitative","scale":{"domain":[-0.052,1],"nice":false,"zero":false},"axis":{"title":null,"values":[0,0.1,0.2,0.3,0.4,0.5,0.6,0.7,0.8,0.9,1],"format":".1f","labelAngle":270}},"x2":{"field":"hi"},
     "color":{"field":"mid","type":"quantitative","scale":{"type":"threshold","domain":[0.1,0.2,0.3,0.4,0.5,0.6,0.7,0.8,0.9],"range":["#053061","#256bae","#549ec9","#a7d0e4","#e2edf3","#fae7dc","#f7b799","#dd6f59","#b6202f","#67001f"]},"legend":null}}},
    {"data":{"values":[{"lo":0,"hi":1}]},"mark":{"type":"rect","fill":"white","fillOpacity":0,"stroke":"black","strokeWidth":1.5},"encoding":{"x":{"field":"lo","type":"quantitative"},"x2":{"field":"hi"}}},
    {"data":{"values":[{"v":0}]},"mark":{"type":"point","shape":"M0,-0.9L-1.95,0L0,0.9Z","size":400,"filled":true,"fill":"#053061","stroke":"black","strokeWidth":1.5,"opacity":1},"encoding":{"x":{"field":"v","type":"quantitative"}}}
   ]}
  ],"spacing":78,"bounds":"flush","resolve":{"scale":{"color":"independent","x":"independent","y":"independent"}}},
  {"vconcat":[
   {"width":402,"height":575,"layer":[
    {"data":{"name":"p2"},"transform":[{"filter":"isValid(datum.v)"}],"mark":{"type":"rect","stroke":"black","strokeOpacity":0.35,"strokeWidth":1},
     "encoding":{"x":{"field":"l","type":"ordinal","scale":{"domain":[1,2,3,4,5,6,7,8,9],"paddingInner":0,"paddingOuter":0},"axis":{"title":"Lead Month","labelAngle":0}},
      "y":{"field":"m","type":"ordinal","scale":{"domain":["Dec","Nov","Oct","Sep","Aug","Jul","Jun","May","Apr","Mar","Feb","Jan"],"paddingInner":0,"paddingOuter":0},"axis":{"title":null,"minExtent":79}},
      "color":{"field":"v","type":"quantitative","scale":{"type":"threshold","domain":[-0.8,-0.7,-0.6,-0.5,-0.4,-0.3,-0.2,-0.1,0,0.1,0.2,0.3,0.4,0.5,0.6,0.7,0.8],"range":["#053061","#16508d","#276eb0","#3b88be","#5fa5cd","#8dc2dc","#b3d6e8","#d6e7f1","#ecf2f5","#f9efe9","#fcdecd","#f9c2a7","#f2a17f","#e17860","#ce4f45","#b82531","#930e26","#67001f"]},"legend":null}}},
    {"data":{"values":[{"t":"MSSS","m":"Dec","l":9}]},"mark":{"type":"text","align":"right","baseline":"middle","fontStyle":"italic","fontSize":46,"dx":-5,"color":"black"},"encoding":{"x":{"field":"l","type":"ordinal","bandPosition":1},"y":{"field":"m","type":"ordinal"},"text":{"field":"t"}}},
    {"data":{"values":[{}]},"mark":{"type":"rect","fill":"white","fillOpacity":0,"stroke":"black","strokeWidth":2.5},"encoding":{}}
   ]},
   {"width":402,"height":18,"layer":[
    {"data":{"name":"cb18"},"mark":{"type":"rect"},"encoding":{"x":{"field":"lo","type":"quantitative","scale":{"domain":[-0.995,0.995],"nice":false,"zero":false},"axis":{"title":null,"values":[-0.8,-0.6,-0.4,-0.2,0,0.2,0.4,0.6,0.8],"format":".1f","labelAngle":270}},"x2":{"field":"hi"},
     "color":{"field":"mid","type":"quantitative","scale":{"type":"threshold","domain":[-0.8,-0.7,-0.6,-0.5,-0.4,-0.3,-0.2,-0.1,0,0.1,0.2,0.3,0.4,0.5,0.6,0.7,0.8],"range":["#053061","#16508d","#276eb0","#3b88be","#5fa5cd","#8dc2dc","#b3d6e8","#d6e7f1","#ecf2f5","#f9efe9","#fcdecd","#f9c2a7","#f2a17f","#e17860","#ce4f45","#b82531","#930e26","#67001f"]},"legend":null}}},
    {"data":{"values":[{"lo":-0.9,"hi":0.9}]},"mark":{"type":"rect","fill":"white","fillOpacity":0,"stroke":"black","strokeWidth":1.5},"encoding":{"x":{"field":"lo","type":"quantitative"},"x2":{"field":"hi"}}},
    {"data":{"values":[{"v":-0.9}]},"mark":{"type":"point","shape":"M0,-0.9L-1.9,0L0,0.9Z","size":400,"filled":true,"fill":"#053061","stroke":"black","strokeWidth":1.5,"opacity":1},"encoding":{"x":{"field":"v","type":"quantitative"}}},
    {"data":{"values":[{"v":0.9}]},"mark":{"type":"point","shape":"M0,-0.9L1.9,0L0,0.9Z","size":400,"filled":true,"fill":"#67001f","stroke":"black","strokeWidth":1.5,"opacity":1},"encoding":{"x":{"field":"v","type":"quantitative"}}}
   ]}
  ],"spacing":78,"bounds":"flush","resolve":{"scale":{"color":"independent","x":"independent","y":"independent"}}},
  {"vconcat":[
   {"width":402,"height":575,"layer":[
    {"data":{"name":"p3"},"transform":[{"filter":"isValid(datum.v)"}],"mark":{"type":"rect","stroke":"black","strokeOpacity":0.35,"strokeWidth":1},
     "encoding":{"x":{"field":"l","type":"ordinal","scale":{"domain":[1,2,3,4,5,6,7,8,9],"paddingInner":0,"paddingOuter":0},"axis":{"title":"Lead Month","labelAngle":0}},
      "y":{"field":"m","type":"ordinal","scale":{"domain":["Dec","Nov","Oct","Sep","Aug","Jul","Jun","May","Apr","Mar","Feb","Jan"],"paddingInner":0,"paddingOuter":0},"axis":{"title":null,"minExtent":70}},
      "color":{"field":"v","type":"quantitative","scale":{"type":"threshold","domain":[0.1,0.2,0.3,0.4,0.5,0.6,0.7,0.8,0.9],"range":["#053061","#256bae","#549ec9","#a7d0e4","#e2edf3","#fae7dc","#f7b799","#dd6f59","#b6202f","#67001f"]},"legend":null}}},
    {"data":{"values":[{"t":"ACC","m":"Dec","l":9}]},"mark":{"type":"text","align":"right","baseline":"middle","fontStyle":"italic","fontSize":46,"dx":-5,"color":"black"},"encoding":{"x":{"field":"l","type":"ordinal","bandPosition":1},"y":{"field":"m","type":"ordinal"},"text":{"field":"t"}}},
    {"data":{"values":[{"t":"Niño 3.4","m":"Jan","l":9}]},"mark":{"type":"text","align":"right","baseline":"middle","fontStyle":"italic","fontSize":47.5,"dx":-3,"color":"black"},"encoding":{"x":{"field":"l","type":"ordinal","bandPosition":1},"y":{"field":"m","type":"ordinal"},"text":{"field":"t"}}},
    {"data":{"values":[{}]},"mark":{"type":"rect","fill":"white","fillOpacity":0,"stroke":"black","strokeWidth":2.5},"encoding":{}}
   ]},
   {"width":402,"height":18,"layer":[
    {"data":{"name":"cb10"},"mark":{"type":"rect"},"encoding":{"x":{"field":"lo","type":"quantitative","scale":{"domain":[-0.052,1],"nice":false,"zero":false},"axis":{"title":null,"values":[0,0.1,0.2,0.3,0.4,0.5,0.6,0.7,0.8,0.9,1],"format":".1f","labelAngle":270}},"x2":{"field":"hi"},
     "color":{"field":"mid","type":"quantitative","scale":{"type":"threshold","domain":[0.1,0.2,0.3,0.4,0.5,0.6,0.7,0.8,0.9],"range":["#053061","#256bae","#549ec9","#a7d0e4","#e2edf3","#fae7dc","#f7b799","#dd6f59","#b6202f","#67001f"]},"legend":null}}},
    {"data":{"values":[{"lo":0,"hi":1}]},"mark":{"type":"rect","fill":"white","fillOpacity":0,"stroke":"black","strokeWidth":1.5},"encoding":{"x":{"field":"lo","type":"quantitative"},"x2":{"field":"hi"}}},
    {"data":{"values":[{"v":0}]},"mark":{"type":"point","shape":"M0,-0.9L-1.95,0L0,0.9Z","size":400,"filled":true,"fill":"#053061","stroke":"black","strokeWidth":1.5,"opacity":1},"encoding":{"x":{"field":"v","type":"quantitative"}}}
   ]}
  ],"spacing":78,"bounds":"flush","resolve":{"scale":{"color":"independent","x":"independent","y":"independent"}}},
  {"vconcat":[
   {"width":402,"height":575,"layer":[
    {"data":{"name":"p4"},"transform":[{"filter":"isValid(datum.v)"}],"mark":{"type":"rect","stroke":"black","strokeOpacity":0.35,"strokeWidth":1},
     "encoding":{"x":{"field":"l","type":"ordinal","scale":{"domain":[1,2,3,4,5,6,7,8,9],"paddingInner":0,"paddingOuter":0},"axis":{"title":"Lead Month","labelAngle":0}},
      "y":{"field":"m","type":"ordinal","scale":{"domain":["Dec","Nov","Oct","Sep","Aug","Jul","Jun","May","Apr","Mar","Feb","Jan"],"paddingInner":0,"paddingOuter":0},"axis":{"title":null,"minExtent":78}},
      "color":{"field":"v","type":"quantitative","scale":{"type":"threshold","domain":[-0.8,-0.7,-0.6,-0.5,-0.4,-0.3,-0.2,-0.1,0,0.1,0.2,0.3,0.4,0.5,0.6,0.7,0.8],"range":["#053061","#16508d","#276eb0","#3b88be","#5fa5cd","#8dc2dc","#b3d6e8","#d6e7f1","#ecf2f5","#f9efe9","#fcdecd","#f9c2a7","#f2a17f","#e17860","#ce4f45","#b82531","#930e26","#67001f"]},"legend":null}}},
    {"data":{"values":[{"t":"MSSS","m":"Dec","l":9}]},"mark":{"type":"text","align":"right","baseline":"middle","fontStyle":"italic","fontSize":46,"dx":-5,"color":"black"},"encoding":{"x":{"field":"l","type":"ordinal","bandPosition":1},"y":{"field":"m","type":"ordinal"},"text":{"field":"t"}}},
    {"data":{"values":[{}]},"mark":{"type":"rect","fill":"white","fillOpacity":0,"stroke":"black","strokeWidth":2.5},"encoding":{}}
   ]},
   {"width":402,"height":18,"layer":[
    {"data":{"name":"cb18"},"mark":{"type":"rect"},"encoding":{"x":{"field":"lo","type":"quantitative","scale":{"domain":[-0.995,0.995],"nice":false,"zero":false},"axis":{"title":null,"values":[-0.8,-0.6,-0.4,-0.2,0,0.2,0.4,0.6,0.8],"format":".1f","labelAngle":270}},"x2":{"field":"hi"},
     "color":{"field":"mid","type":"quantitative","scale":{"type":"threshold","domain":[-0.8,-0.7,-0.6,-0.5,-0.4,-0.3,-0.2,-0.1,0,0.1,0.2,0.3,0.4,0.5,0.6,0.7,0.8],"range":["#053061","#16508d","#276eb0","#3b88be","#5fa5cd","#8dc2dc","#b3d6e8","#d6e7f1","#ecf2f5","#f9efe9","#fcdecd","#f9c2a7","#f2a17f","#e17860","#ce4f45","#b82531","#930e26","#67001f"]},"legend":null}}},
    {"data":{"values":[{"lo":-0.9,"hi":0.9}]},"mark":{"type":"rect","fill":"white","fillOpacity":0,"stroke":"black","strokeWidth":1.5},"encoding":{"x":{"field":"lo","type":"quantitative"},"x2":{"field":"hi"}}},
    {"data":{"values":[{"v":-0.9}]},"mark":{"type":"point","shape":"M0,-0.9L-1.9,0L0,0.9Z","size":400,"filled":true,"fill":"#053061","stroke":"black","strokeWidth":1.5,"opacity":1},"encoding":{"x":{"field":"v","type":"quantitative"}}},
    {"data":{"values":[{"v":0.9}]},"mark":{"type":"point","shape":"M0,-0.9L1.9,0L0,0.9Z","size":400,"filled":true,"fill":"#67001f","stroke":"black","strokeWidth":1.5,"opacity":1},"encoding":{"x":{"field":"v","type":"quantitative"}}}
   ]}
  ],"spacing":78,"bounds":"flush","resolve":{"scale":{"color":"independent","x":"independent","y":"independent"}}}
],"spacing":6,"resolve":{"scale":{"color":"independent","x":"independent","y":"independent"}}},
{"hconcat":[
  {"vconcat":[
   {"width":402,"height":575,"layer":[
    {"data":{"name":"p5"},"transform":[{"filter":"isValid(datum.v)"}],"mark":{"type":"rect","stroke":"black","strokeOpacity":0.35,"strokeWidth":1},
     "encoding":{"x":{"field":"l","type":"ordinal","scale":{"domain":[1,2,3,4,5,6,7,8,9],"paddingInner":0,"paddingOuter":0},"axis":{"title":"Lead Month","labelAngle":0}},
      "y":{"field":"m","type":"ordinal","scale":{"domain":["Dec","Nov","Oct","Sep","Aug","Jul","Jun","May","Apr","Mar","Feb","Jan"],"paddingInner":0,"paddingOuter":0},"axis":{"title":"Start Month","titlePadding":-2,"minExtent":70}},
      "color":{"field":"v","type":"quantitative","scale":{"type":"threshold","domain":[0.1,0.2,0.3,0.4,0.5,0.6,0.7,0.8,0.9],"range":["#053061","#256bae","#549ec9","#a7d0e4","#e2edf3","#fae7dc","#f7b799","#dd6f59","#b6202f","#67001f"]},"legend":null}}},
    {"data":{"values":[{}]},"mark":{"type":"rect","fill":"white","fillOpacity":0,"stroke":"black","strokeWidth":2.5},"encoding":{}}
   ]},
   {"width":402,"height":18,"layer":[
    {"data":{"name":"cb10"},"mark":{"type":"rect"},"encoding":{"x":{"field":"lo","type":"quantitative","scale":{"domain":[-0.052,1],"nice":false,"zero":false},"axis":{"title":null,"values":[0,0.1,0.2,0.3,0.4,0.5,0.6,0.7,0.8,0.9,1],"format":".1f","labelAngle":270}},"x2":{"field":"hi"},
     "color":{"field":"mid","type":"quantitative","scale":{"type":"threshold","domain":[0.1,0.2,0.3,0.4,0.5,0.6,0.7,0.8,0.9],"range":["#053061","#256bae","#549ec9","#a7d0e4","#e2edf3","#fae7dc","#f7b799","#dd6f59","#b6202f","#67001f"]},"legend":null}}},
    {"data":{"values":[{"lo":0,"hi":1}]},"mark":{"type":"rect","fill":"white","fillOpacity":0,"stroke":"black","strokeWidth":1.5},"encoding":{"x":{"field":"lo","type":"quantitative"},"x2":{"field":"hi"}}},
    {"data":{"values":[{"v":0}]},"mark":{"type":"point","shape":"M0,-0.9L-1.95,0L0,0.9Z","size":400,"filled":true,"fill":"#053061","stroke":"black","strokeWidth":1.5,"opacity":1},"encoding":{"x":{"field":"v","type":"quantitative"}}}
   ]}
  ],"spacing":78,"bounds":"flush","resolve":{"scale":{"color":"independent","x":"independent","y":"independent"}}},
  {"vconcat":[
   {"width":402,"height":575,"layer":[
    {"data":{"name":"p6"},"transform":[{"filter":"isValid(datum.v)"}],"mark":{"type":"rect","stroke":"black","strokeOpacity":0.35,"strokeWidth":1},
     "encoding":{"x":{"field":"l","type":"ordinal","scale":{"domain":[1,2,3,4,5,6,7,8,9],"paddingInner":0,"paddingOuter":0},"axis":{"title":"Lead Month","labelAngle":0}},
      "y":{"field":"m","type":"ordinal","scale":{"domain":["Dec","Nov","Oct","Sep","Aug","Jul","Jun","May","Apr","Mar","Feb","Jan"],"paddingInner":0,"paddingOuter":0},"axis":{"title":null,"minExtent":87}},
      "color":{"field":"v","type":"quantitative","scale":{"type":"threshold","domain":[0.1,0.2,0.3,0.4,0.5,0.6,0.7,0.8,0.9],"range":["#f7fcf5","#e7f6e2","#ceecc7","#aedea7","#88cd86","#5db96b","#37a055","#1b843f","#00682a","#00441b"]},"legend":null}}},
    {"data":{"values":[{"t":"potential skill - ACC","m":"Dec","l":9}]},"mark":{"type":"text","align":"right","baseline":"middle","fontStyle":"italic","fontSize":39.5,"dx":-5,"color":"black"},"encoding":{"x":{"field":"l","type":"ordinal","bandPosition":1},"y":{"field":"m","type":"ordinal"},"text":{"field":"t"}}},
    {"data":{"values":[{"t":"Niño 3.4","m":"Jan","l":9}]},"mark":{"type":"text","align":"right","baseline":"middle","fontStyle":"italic","fontSize":47.5,"dx":-3,"color":"black"},"encoding":{"x":{"field":"l","type":"ordinal","bandPosition":1},"y":{"field":"m","type":"ordinal"},"text":{"field":"t"}}},
    {"data":{"values":[{}]},"mark":{"type":"rect","fill":"white","fillOpacity":0,"stroke":"black","strokeWidth":2.5},"encoding":{}}
   ]},
   {"width":402,"height":18,"layer":[
    {"data":{"name":"cb10"},"mark":{"type":"rect"},"encoding":{"x":{"field":"lo","type":"quantitative","scale":{"domain":[-0.052,1],"nice":false,"zero":false},"axis":{"title":null,"values":[0,0.1,0.2,0.3,0.4,0.5,0.6,0.7,0.8,0.9,1],"format":".1f","labelAngle":270}},"x2":{"field":"hi"},
     "color":{"field":"mid","type":"quantitative","scale":{"type":"threshold","domain":[0.1,0.2,0.3,0.4,0.5,0.6,0.7,0.8,0.9],"range":["#f7fcf5","#e7f6e2","#ceecc7","#aedea7","#88cd86","#5db96b","#37a055","#1b843f","#00682a","#00441b"]},"legend":null}}},
    {"data":{"values":[{"lo":0,"hi":1}]},"mark":{"type":"rect","fill":"white","fillOpacity":0,"stroke":"black","strokeWidth":1.5},"encoding":{"x":{"field":"lo","type":"quantitative"},"x2":{"field":"hi"}}},
    {"data":{"values":[{"v":0}]},"mark":{"type":"point","shape":"M0,-0.9L-1.95,0L0,0.9Z","size":400,"filled":true,"fill":"#f7fcf5","stroke":"black","strokeWidth":1.5,"opacity":1},"encoding":{"x":{"field":"v","type":"quantitative"}}}
   ]}
  ],"spacing":78,"bounds":"flush","resolve":{"scale":{"color":"independent","x":"independent","y":"independent"}}},
  {"vconcat":[
   {"width":402,"height":575,"layer":[
    {"data":{"name":"p7"},"transform":[{"filter":"isValid(datum.v)"}],"mark":{"type":"rect","stroke":"black","strokeOpacity":0.35,"strokeWidth":1},
     "encoding":{"x":{"field":"l","type":"ordinal","scale":{"domain":[1,2,3,4,5,6,7,8,9],"paddingInner":0,"paddingOuter":0},"axis":{"title":"Lead Month","labelAngle":0}},
      "y":{"field":"m","type":"ordinal","scale":{"domain":["Dec","Nov","Oct","Sep","Aug","Jul","Jun","May","Apr","Mar","Feb","Jan"],"paddingInner":0,"paddingOuter":0},"axis":{"title":null,"minExtent":70}},
      "color":{"field":"v","type":"quantitative","scale":{"type":"threshold","domain":[0.1,0.2,0.3,0.4,0.5,0.6,0.7,0.8,0.9],"range":["#053061","#256bae","#549ec9","#a7d0e4","#e2edf3","#fae7dc","#f7b799","#dd6f59","#b6202f","#67001f"]},"legend":null}}},
    {"data":{"values":[{}]},"mark":{"type":"rect","fill":"white","fillOpacity":0,"stroke":"black","strokeWidth":2.5},"encoding":{}}
   ]},
   {"width":402,"height":18,"layer":[
    {"data":{"name":"cb10"},"mark":{"type":"rect"},"encoding":{"x":{"field":"lo","type":"quantitative","scale":{"domain":[-0.052,1],"nice":false,"zero":false},"axis":{"title":null,"values":[0,0.1,0.2,0.3,0.4,0.5,0.6,0.7,0.8,0.9,1],"format":".1f","labelAngle":270}},"x2":{"field":"hi"},
     "color":{"field":"mid","type":"quantitative","scale":{"type":"threshold","domain":[0.1,0.2,0.3,0.4,0.5,0.6,0.7,0.8,0.9],"range":["#053061","#256bae","#549ec9","#a7d0e4","#e2edf3","#fae7dc","#f7b799","#dd6f59","#b6202f","#67001f"]},"legend":null}}},
    {"data":{"values":[{"lo":0,"hi":1}]},"mark":{"type":"rect","fill":"white","fillOpacity":0,"stroke":"black","strokeWidth":1.5},"encoding":{"x":{"field":"lo","type":"quantitative"},"x2":{"field":"hi"}}},
    {"data":{"values":[{"v":0}]},"mark":{"type":"point","shape":"M0,-0.9L-1.95,0L0,0.9Z","size":400,"filled":true,"fill":"#053061","stroke":"black","strokeWidth":1.5,"opacity":1},"encoding":{"x":{"field":"v","type":"quantitative"}}}
   ]}
  ],"spacing":78,"bounds":"flush","resolve":{"scale":{"color":"independent","x":"independent","y":"independent"}}},
  {"vconcat":[
   {"width":402,"height":575,"layer":[
    {"data":{"name":"p8"},"transform":[{"filter":"isValid(datum.v)"}],"mark":{"type":"rect","stroke":"black","strokeOpacity":0.35,"strokeWidth":1},
     "encoding":{"x":{"field":"l","type":"ordinal","scale":{"domain":[1,2,3,4,5,6,7,8,9],"paddingInner":0,"paddingOuter":0},"axis":{"title":"Lead Month","labelAngle":0}},
      "y":{"field":"m","type":"ordinal","scale":{"domain":["Dec","Nov","Oct","Sep","Aug","Jul","Jun","May","Apr","Mar","Feb","Jan"],"paddingInner":0,"paddingOuter":0},"axis":{"title":null,"minExtent":86}},
      "color":{"field":"v","type":"quantitative","scale":{"type":"threshold","domain":[0.1,0.2,0.3,0.4,0.5,0.6,0.7,0.8,0.9],"range":["#f7fcf5","#e7f6e2","#ceecc7","#aedea7","#88cd86","#5db96b","#37a055","#1b843f","#00682a","#00441b"]},"legend":null}}},
    {"data":{"values":[{"t":"potential skill - ACC","m":"Dec","l":9}]},"mark":{"type":"text","align":"right","baseline":"middle","fontStyle":"italic","fontSize":39.5,"dx":-5,"color":"black"},"encoding":{"x":{"field":"l","type":"ordinal","bandPosition":1},"y":{"field":"m","type":"ordinal"},"text":{"field":"t"}}},
    {"data":{"values":[{"t":"Niño 3.4","m":"Jan","l":9}]},"mark":{"type":"text","align":"right","baseline":"middle","fontStyle":"italic","fontSize":47.5,"dx":-3,"color":"black"},"encoding":{"x":{"field":"l","type":"ordinal","bandPosition":1},"y":{"field":"m","type":"ordinal"},"text":{"field":"t"}}},
    {"data":{"values":[{}]},"mark":{"type":"rect","fill":"white","fillOpacity":0,"stroke":"black","strokeWidth":2.5},"encoding":{}}
   ]},
   {"width":402,"height":18,"layer":[
    {"data":{"name":"cb10"},"mark":{"type":"rect"},"encoding":{"x":{"field":"lo","type":"quantitative","scale":{"domain":[-0.052,1],"nice":false,"zero":false},"axis":{"title":null,"values":[0,0.1,0.2,0.3,0.4,0.5,0.6,0.7,0.8,0.9,1],"format":".1f","labelAngle":270}},"x2":{"field":"hi"},
     "color":{"field":"mid","type":"quantitative","scale":{"type":"threshold","domain":[0.1,0.2,0.3,0.4,0.5,0.6,0.7,0.8,0.9],"range":["#f7fcf5","#e7f6e2","#ceecc7","#aedea7","#88cd86","#5db96b","#37a055","#1b843f","#00682a","#00441b"]},"legend":null}}},
    {"data":{"values":[{"lo":0,"hi":1}]},"mark":{"type":"rect","fill":"white","fillOpacity":0,"stroke":"black","strokeWidth":1.5},"encoding":{"x":{"field":"lo","type":"quantitative"},"x2":{"field":"hi"}}},
    {"data":{"values":[{"v":0}]},"mark":{"type":"point","shape":"M0,-0.9L-1.95,0L0,0.9Z","size":400,"filled":true,"fill":"#f7fcf5","stroke":"black","strokeWidth":1.5,"opacity":1},"encoding":{"x":{"field":"v","type":"quantitative"}}}
   ]}
  ],"spacing":78,"bounds":"flush","resolve":{"scale":{"color":"independent","x":"independent","y":"independent"}}}
],"spacing":-2,"resolve":{"scale":{"color":"independent","x":"independent","y":"independent"}}}
],
"spacing":30,
"resolve":{"scale":{"color":"independent","x":"independent","y":"independent"}}
}
